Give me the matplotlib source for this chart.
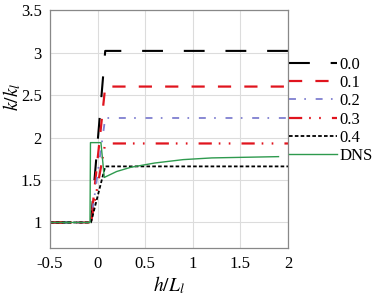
import numpy as np
import matplotlib
matplotlib.use("Agg")
import matplotlib.pyplot as plt

plt.rcParams['font.family'] = ['Liberation Serif', 'DejaVu Serif']
plt.rcParams['mathtext.fontset'] = 'stix'
plt.rcParams['lines.scale_dashes'] = False

# ----- datos -----
labels = ['0.0', '0.1', '0.2', '0.3', '0.4']
plateau = [3.02, 2.60, 2.23, 1.93, 1.66]
x_model = [-0.5, -0.07, 0.08, 2.0]

dns_x = [-0.5, -0.08, -0.075, 0.035, 0.07, 0.2, 0.35, 0.6, 0.9, 1.2, 1.9]
dns_y = [1.0, 1.0, 1.94, 1.94, 1.53, 1.60, 1.65, 1.70, 1.74, 1.76, 1.775]

colors = ['black', '#e0141e', '#7f7fd0', '#e0141e', 'black']
widths = [1.5, 1.6, 1.3, 1.6, 1.3]
# patrones en puntos (dpi 100 -> 1 pt = 1.39 px)
dashes = [(15, 15), (9.5, 9.5), (5, 6, 1.2, 7), (9.5, 5, 1.2, 6, 1.2, 8), (2.6, 1.6)]

fig = plt.figure(figsize=(3.76, 2.98), dpi=100)
ax = fig.add_axes([0.133, 0.168, 0.633, 0.798])

for lab, val, c, lw, d in zip(labels, plateau, colors, widths, dashes):
    y = [1.0, 1.0, val, val]
    ax.plot(x_model, y, color=c, lw=lw, dashes=d, label=lab)
ax.plot(dns_x, dns_y, color='#2e9a4e', lw=1.0, label='DNS')

ax.set_xlim(-0.5, 2)
ax.set_ylim(0.7, 3.5)
ax.set_xticks([-0.5, 0, 0.5, 1, 1.5, 2])
ax.set_xticklabels(['-0.5', '0', '0.5', '1', '1.5', '2'])
ax.set_yticks([1, 1.5, 2, 2.5, 3, 3.5])
ax.set_yticklabels(['1', '1.5', '2', '2.5', '3', '3.5'])
ax.tick_params(length=0, labelsize=12, pad=6)
ax.grid(True, color='#dcdcdc', lw=0.8)
ax.set_axisbelow(True)
for s in ax.spines.values():
    s.set_color('#888888')
    s.set_linewidth(0.9)

ax.set_xlabel(r'$h/L_l$', fontsize=14)
ax.xaxis.set_label_coords(0.5, -0.11)
ax.set_ylabel(r'$k/k_l$', fontsize=14)
ax.yaxis.set_label_coords(-0.115, 0.635)

ax.legend(loc='upper left', bbox_to_anchor=(0.768, 0.81), bbox_transform=fig.transFigure,
          frameon=False, fontsize=12, handlelength=2.9, handletextpad=0.15,
          labelspacing=0.14, borderpad=0, borderaxespad=0)

fig.savefig('out.png', dpi=100)
